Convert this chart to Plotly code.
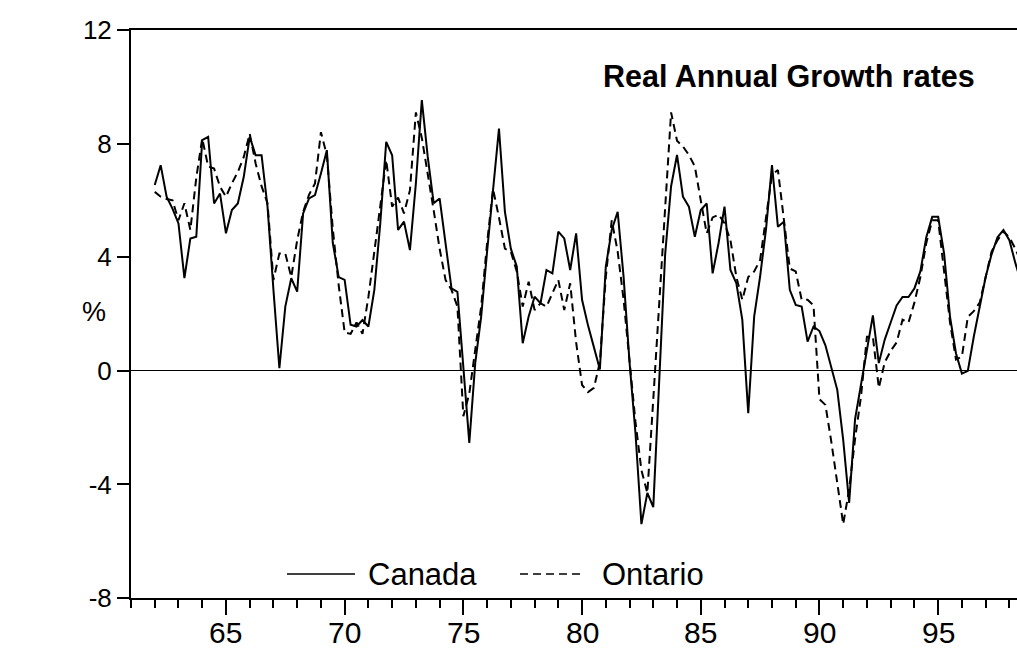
import plotly.graph_objects as go

# Quarterly real annual growth rates (%), 1962Q1 onwards
start_year = 1962
canada = [
    6.54, 7.24, 6.13, 5.70, 5.19, 3.26, 4.66, 4.72, 8.12, 8.24,
    5.89, 6.24, 4.84, 5.66, 5.89, 6.83, 8.24, 7.59, 7.59, 5.78,
    2.85, 0.09, 2.26, 3.26, 2.79, 5.54, 6.07, 6.19, 6.95, 7.77,
    4.50, 3.30, 3.20, 1.62, 1.56, 1.79, 1.56, 2.85, 5.19, 8.06,
    7.59, 4.96, 5.25, 4.25, 6.60, 9.53, 7.53, 5.90, 6.07, 4.50,
    2.90, 2.78, 0.27, -2.54, 0.27, 1.91, 4.20, 6.50, 8.53, 5.60,
    4.30, 3.67, 0.97, 1.91, 2.61, 2.38, 3.55, 3.43, 4.90, 4.66,
    3.55, 4.84, 2.50, 1.60, 0.85, 0.05, 3.67, 4.96, 5.60, 3.30,
    0.30, -2.20, -5.40, -4.30, -4.80, -0.30, 4.10, 6.50, 7.60, 6.13,
    5.78, 4.72, 5.66, 5.89, 3.43, 4.50, 5.78, 3.55, 3.08, 1.79,
    -1.49, 1.91, 3.32, 5.00, 7.24, 5.07, 5.25, 2.85, 2.32, 2.26,
    1.03, 1.56, 1.40, 0.90, 0.15, -0.67, -2.43, -4.65, -1.70, -0.50,
    0.80, 1.95, 0.27, 1.10, 1.70, 2.30, 2.60, 2.60, 2.90, 3.50,
    4.70, 5.42, 5.42, 4.13, 1.90, 0.62, -0.10, 0.00, 1.20, 2.30,
    3.30, 4.10, 4.70, 4.96, 4.60, 3.80, 3.10,
]
ontario = [
    6.30, 6.13, 6.05, 6.00, 5.30, 5.90, 4.96, 6.80, 8.18, 7.20,
    7.12, 6.48, 6.13, 6.60, 7.00, 7.53, 8.35, 7.30, 6.50, 5.90,
    3.20, 4.13, 4.13, 3.30, 4.60, 5.60, 6.20, 6.60, 8.40, 7.60,
    5.00, 3.00, 1.35, 1.30, 1.70, 1.30, 2.60, 4.30, 5.80, 7.42,
    5.78, 6.10, 5.54, 6.36, 9.10, 8.20, 7.00, 5.65, 4.30, 3.20,
    2.85, 2.26, -1.60, -0.80, 0.74, 2.26, 4.50, 6.40, 5.40, 4.30,
    4.20, 3.50, 2.26, 3.14, 2.14, 2.38, 2.26, 2.70, 3.20, 2.14,
    3.08, 1.00, -0.50, -0.75, -0.60, 0.30, 3.30, 5.30, 4.20, 2.50,
    0.30, -1.80, -3.50, -4.30, -1.00, 2.40, 5.80, 9.10, 8.10, 7.90,
    7.60, 7.20, 6.00, 4.84, 5.40, 5.50, 5.20, 4.60, 3.30, 2.50,
    3.30, 3.50, 3.90, 5.40, 6.90, 7.07, 5.40, 3.60, 3.50, 2.50,
    2.50, 2.30, -1.00, -1.20, -2.50, -3.90, -5.40, -4.18, -2.40, -0.90,
    1.20, 1.20, -0.60, 0.30, 0.70, 1.00, 1.80, 1.70, 2.40, 3.30,
    4.50, 5.30, 5.30, 3.50, 1.70, 0.40, 0.50, 1.90, 2.10, 2.40,
    3.30, 4.20, 4.60, 4.90, 4.70, 4.30, 3.80,
]
x_tick_vals = [65, 70, 75, 80, 85, 90, 95]
x_tick_text = ["65", "70", "75", "80", "85", "90", "95"]
y_tick_vals = [-8, -4, 0, 4, 8, 12]
y_tick_text = ["-8", "-4", "0", "4", "8", "12"]

quarters = [f"{start_year + i // 4}Q{i % 4 + 1}" for i in range(len(canada))]
xpos = [int(q[:4]) - 1900 + (int(q[-1]) - 1) / 4 for q in quarters]

FONT = "Liberation Sans, Arial, sans-serif"

fig = go.Figure()
fig.add_trace(go.Scatter(x=xpos, y=canada, mode="lines", name="Canada",
                         text=quarters,
                         line=dict(color="black", width=2)))
fig.add_trace(go.Scatter(x=xpos, y=ontario, mode="lines", name="Ontario",
                         text=quarters,
                         line=dict(color="black", width=2, dash="8px,5px")))

L, R, T, B = 131, 0, 30, 56
W, H = 1017, 654
pw, ph = W - L - R, H - T - B

def px2paper(px, py):
    return (px - L) / pw, (H - B - py) / ph

# legend drawn manually
shapes = []
annotations = []
ly = px2paper(0, 574)[1]
shapes.append(dict(type="line", xref="paper", yref="paper",
                   x0=px2paper(287, 0)[0], x1=px2paper(355, 0)[0], y0=ly, y1=ly,
                   line=dict(color="black", width=1.5)))
shapes.append(dict(type="line", xref="paper", yref="paper",
                   x0=px2paper(520, 0)[0], x1=px2paper(584, 0)[0], y0=ly, y1=ly,
                   line=dict(color="black", width=1.5, dash="8px,5px")))
annotations.append(dict(text="Canada", xref="paper", yref="paper",
                        x=px2paper(366, 0)[0], y=ly, xanchor="left", yanchor="middle",
                        showarrow=False, font=dict(family=FONT, size=31, color="black")))
annotations.append(dict(text="Ontario", xref="paper", yref="paper",
                        x=px2paper(600, 0)[0], y=ly, xanchor="left", yanchor="middle",
                        showarrow=False, font=dict(family=FONT, size=31, color="black")))
# title
tx, ty = px2paper(977, 76)
annotations.append(dict(text="<b>Real Annual Growth rates</b>", xref="paper", yref="paper",
                        x=tx, y=ty, xanchor="right", yanchor="middle", showarrow=False,
                        font=dict(family=FONT, size=30.5, color="black")))
# y-axis title "%"
px_, py_ = px2paper(94, 312)
annotations.append(dict(text="%", xref="paper", yref="paper", x=px_, y=py_,
                        xanchor="center", yanchor="middle", showarrow=False,
                        font=dict(family=FONT, size=27, color="black")))
# x tick labels placed as text just below the axis
lab_y = px2paper(0, 632)[1]
for v, t in zip(x_tick_vals, x_tick_text):
    annotations.append(dict(text=t, xref="x", yref="paper", x=v, y=lab_y,
                            xanchor="center", yanchor="middle", showarrow=False,
                            font=dict(family=FONT, size=30, color="black")))

fig.update_layout(
    width=W, height=H,
    margin=dict(l=L, r=R, t=T, b=B, pad=0),
    paper_bgcolor="white", plot_bgcolor="white",
    showlegend=False,
    shapes=shapes, annotations=annotations,
    font=dict(family=FONT, color="black"),
)
x_lo = 61.0
x_hi = x_lo + pw / 23.74
fig.update_xaxes(range=[x_lo, x_hi], tickmode="array", tickvals=x_tick_vals,
                 ticktext=x_tick_text, showticklabels=False,
                 ticks="outside", ticklen=15, tickwidth=2,
                 tickcolor="black", showline=True, linecolor="black", linewidth=2,
                 mirror=True, showgrid=False, zeroline=False,
                 minor=dict(tickmode="linear", tick0=61, dtick=1, ticks="outside",
                            ticklen=8, tickwidth=2, tickcolor="black", showgrid=False))
fig.update_yaxes(range=[-8, 12], tickmode="array", tickvals=y_tick_vals,
                 ticktext=y_tick_text, ticks="outside", ticklen=12, tickwidth=1.5,
                 tickcolor="black", showline=True, linecolor="black", linewidth=2,
                 showgrid=False, zeroline=True, zerolinecolor="black", zerolinewidth=1,
                 tickfont=dict(family=FONT, size=26, color="black"))

fig.write_html("out.html")
